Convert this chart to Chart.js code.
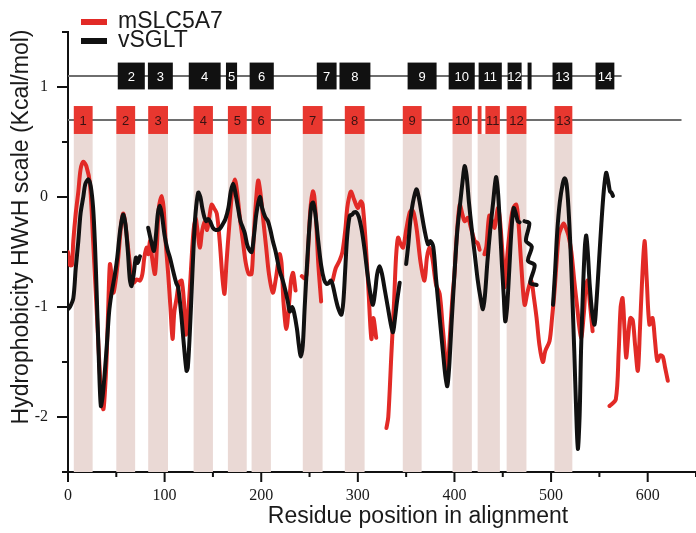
<!DOCTYPE html>
<html>
<head>
<meta charset="utf-8">
<script src="https://cdn.jsdelivr.net/npm/chart.js@4.4.1/dist/chart.umd.min.js"></script>
<style>
  html, body { margin: 0; padding: 0; background: #fff; }
  canvas { display: block; }
</style>
</head>
<body>
<canvas id="hydroChart" width="696" height="533"></canvas>
<script>
/* ================================
   DADOS
================================ */
const SERIES_NAMES = ['mSLC5A7', 'vSGLT'];
const X_TITLE = 'Residue position in alignment';
const Y_TITLE = 'Hydrophobicity HWvH scale (Kcal/mol)';

// mSLC5A7 (null = interrupção da linha)
const redX = [
  0, 2, 4, 5.5, 8, 10.7, 13, 15.8, 19, 22.7, 26, 31.3, 34, 36.5, 38, 40, 42, 43.4, 45, 47,
  49, 52, 55, 57, 59, 62, 65.8, 68, 71, 74.5, 77, 79, 81.4, 83, 85, 87, 90, 92, 94, 97,
  99, 101, 103.7, 106, 108.2, 110, 112.4, 115, 117.6, 120, 122, 124, 126, 128, 130, 132, 134, 136.5, 139, 141.7,
  144, 146, 148.6, 151, 154, 157, 160, 162, 164, 167, 170, 172.7, 175, 178, 181, 184, 187, 190, 192, 194.5,
  196.8, 199, 202, 205, 208, 212, 215, 219, 221, 223, 226, 229, 231, 233, 235.5, 239,
  242, 245, 247, 249, 251, 253.5, 255, 257, 259, 262, 268,
  274, 277, 281, 284, 287, 289, 291, 293, 296, 300, 303, 305, 308, 311, 314, 316, 319, 324,
  329.6, 331.5, 334.7, 337.5, 339.5, 341.6, 344, 346.8, 350, 353.7, 356, 358, 361, 365, 369, 371.5, 374, 377, 381, 384.7,
  388, 392.6, 395, 398, 400, 402, 405.4, 408, 410.5, 414, 417, 421, 424, 426, 428.5,
  431, 433, 436, 439, 441.5, 445, 447, 450, 452, 455, 458.8, 461, 464, 466, 469, 472.6, 476, 479.5, 482, 485,
  488, 491.5, 494, 498.4, 501, 503.6, 506, 508, 510.5, 513, 515.7, 518, 521, 524, 527, 531, 534, 536, 538, 540, 543, 552,
  560.5, 567, 570, 572, 574, 576, 577.7, 580, 582, 584.5, 587, 589.8, 592, 594, 596.7, 599, 601.8, 605, 607.5, 610, 613, 615.6, 618, 620.8
];
const redY = [
  -0.50, -0.62, -0.62, -0.40, -0.15, 0.05, 0.25, 0.32, 0.28, 0.12, -0.40, -1.31, -1.75, -1.93, -1.80, -1.46, -0.90, -0.61, -0.70, -0.87,
  -0.78, -0.55, -0.25, -0.15, -0.22, -0.45, -0.73, -0.78, -0.75, -0.76, -0.70, -0.55, -0.46, -0.52, -0.40, -0.55, -0.70, -0.45, -0.10, 0.01,
  -0.10, -0.40, -0.70, -1.00, -1.29, -1.05, -0.92, -0.78, -0.76, -0.95, -1.25, -1.10, -0.85, -0.55, -0.30, -0.19, -0.30, -0.46, -0.30, -0.22,
  -0.30, -0.20, -0.07, -0.10, -0.15, -0.40, -0.75, -0.88, -0.60, -0.25, 0.05, 0.16, 0.05, -0.20, -0.40, -0.60, -0.70, -0.70, -0.40, -0.05,
  0.15, 0.05, -0.20, -0.45, -0.70, -0.87, -0.75, -0.52, -0.60, -0.95, -1.20, -0.95, -0.75, -0.69, -0.85, null,
  -0.72, -0.74, -0.70, -0.40, -0.10, 0.05, 0.00, -0.25, -0.60, -0.95, null,
  -0.76, -0.65, -0.58, -0.50, -0.30, -0.10, 0.00, 0.05, -0.02, -0.10, -0.04, -0.07, -0.40, -0.85, -1.29, -1.10, -1.28, null,
  -2.10, -2.00, -1.43, -0.95, -0.55, -0.37, -0.42, -0.46, -0.30, -0.14, -0.12, -0.15, -0.30, -0.60, -0.76, -0.55, -0.46, -0.55, -0.80, -0.88,
  -1.20, -1.60, -1.30, -0.90, -0.70, -0.40, -0.07, -0.15, -0.22, -0.19, -0.28, -0.40, -0.42, -0.48, null,
  -0.52, -0.45, -0.17, -0.22, -0.28, -0.10, -0.20, -0.55, -0.82, -0.50, -0.19, -0.10, -0.07, -0.20, -0.60, -0.98, -0.85, -0.76, -0.90, -1.10,
  -1.35, -1.50, -1.40, -1.31, -1.10, -0.85, -0.55, -0.35, -0.28, -0.24, -0.29, -0.35, -0.50, -0.76, -1.00, -1.28, -1.05, -0.80, -0.76, -0.95, -1.22, null,
  -1.90, -1.84, -1.40, -1.00, -0.92, -1.20, -1.46, -1.25, -1.10, -1.12, -1.35, -1.58, -1.20, -0.80, -0.40, -0.75, -1.16, -1.10, -1.30, -1.49, -1.44, -1.45, -1.55, -1.67
];

// vSGLT
const blackX = [
  0, 2, 5.5, 8, 10.7, 13, 15.8, 18, 21, 23.5, 26, 28, 29.6, 32, 34, 36, 38, 40, 42.5, 45,
  48.6, 51, 54, 57, 59.5, 62, 64, 65.8, 68, 70.3, 72, 74.5, 79,
  83, 86, 89, 91, 93, 95, 97, 100, 103, 105.5, 109, 112, 114, 117, 120, 122.7, 124, 126, 128, 130,
  132, 134.8, 137, 139, 141, 143, 145, 147, 150, 153, 157, 160, 163, 166, 168.5, 171, 173, 176, 178.5, 181,
  183, 186, 190, 192.5, 195, 198.6, 201, 204, 207, 209.5, 212, 215, 219, 222, 225, 227.5, 229.6, 232, 234, 237,
  239, 241, 243, 245, 247.5, 250, 252, 253.7, 256, 259, 262, 265, 267.5, 270, 272, 274, 277, 280, 283, 285,
  287, 289, 291.6, 294, 296, 298.5, 301, 304, 307, 310, 313, 315.7, 318, 320, 322.6, 325, 328, 331, 334, 336.4,
  338.5, 340.5, 343.3, 347,
  350, 352, 354.5, 357, 360.6, 363, 366, 369, 372.6, 375, 378, 381, 384.7, 388, 390.5, 392.6, 394.5, 397, 400, 403,
  406, 408.5, 410.5, 412.5, 415, 418, 421, 424, 427, 429.5, 431.5, 434, 437, 440, 443, 445, 447, 449, 451, 452.6,
  454.5, 456.5, 459, 461.3, 463.5, 465.5, 467.4, 470,
  472.5, 477.5, 474, 480, 476, 483, 478.5, 485, 493,
  502, 504, 506.5, 509, 512, 514, 516, 518, 520, 522, 524, 526, 527.7, 529.5, 531, 533, 535, 536.4, 538, 540,
  542.5, 545, 547, 549.5, 552, 554.5, 557, 559, 561, 562.5, 564
];
const blackY = [
  -1.02, -1.00, -0.92, -0.65, -0.40, -0.15, 0.00, 0.12, 0.16, 0.10, -0.10, -0.45, -0.85, -1.50, -1.90, -1.80, -1.60, -1.37, -1.05, -0.88,
  -0.70, -0.55, -0.30, -0.16, -0.25, -0.50, -0.75, -0.81, -0.70, -0.55, -0.60, -0.54, null,
  -0.28, -0.40, -0.49, -0.35, -0.15, -0.08, -0.15, -0.35, -0.48, -0.55, -0.68, -0.78, -0.82, -1.05, -1.35, -1.58, -1.55, -1.25, -0.85, -0.45,
  -0.15, 0.04, 0.00, -0.10, -0.18, -0.22, -0.20, -0.22, -0.28, -0.30, -0.29, -0.25, -0.20, -0.10, 0.05, 0.12, 0.05, -0.10, -0.22, -0.28,
  -0.33, -0.45, -0.50, -0.35, -0.15, 0.00, -0.10, -0.18, -0.22, -0.30, -0.40, -0.50, -0.67, -0.75, -0.85, -0.95, -1.04, -1.00, -1.05, -1.20,
  -1.35, -1.45, -1.35, -1.00, -0.60, -0.25, -0.07, -0.05, -0.15, -0.40, -0.62, -0.75, -0.79, -0.78, -0.76, -0.80, -0.92, -1.02, -1.07, -0.95,
  -0.65, -0.35, -0.17, -0.16, -0.14, -0.14, -0.18, -0.30, -0.48, -0.70, -0.88, -0.98, -0.85, -0.70, -0.63, -0.70, -0.85, -1.00, -1.15, -1.23,
  -1.10, -0.95, -0.78, null,
  -0.61, -0.45, -0.20, -0.05, 0.07, 0.00, -0.15, -0.30, -0.43, -0.40, -0.45, -0.75, -1.10, -1.40, -1.62, -1.72, -1.55, -1.15, -0.70, -0.30,
  -0.05, 0.15, 0.28, 0.20, -0.05, -0.30, -0.52, -0.75, -0.92, -1.02, -0.90, -0.60, -0.30, -0.05, 0.18, 0.05, -0.25, -0.60, -0.90, -1.13,
  -1.00, -0.70, -0.30, -0.10, -0.15, -0.22, -0.23, null,
  -0.22, -0.24, -0.40, -0.45, -0.58, -0.62, -0.78, -0.80, null,
  -0.98, -0.70, -0.30, -0.05, 0.12, 0.17, 0.12, -0.10, -0.45, -0.90, -1.40, -1.95, -2.29, -2.00, -1.40, -0.85, -0.45, -0.35, -0.50, -0.80,
  -1.05, -1.16, -0.95, -0.60, -0.25, 0.05, 0.22, 0.15, 0.05, 0.04, 0.01
];

// Segmentos transmembrana (resíduos)
const redTmStart  = [6, 50, 83, 130, 165.5, 190, 243, 286.5, 346.5, 398, 424, 432, 454, 503.5];
const redTmEnd    = [25.5, 69.5, 103.5, 150, 185, 210, 263.5, 307, 366, 418, 428, 447, 474.5, 522];
const redTmLabels = ['1', '2', '3', '4', '5', '6', '7', '8', '9', '10', '', '11', '12', '13'];

const blackTmStart  = [51.5, 82.7, 125, 163.5, 188, 257.5, 281, 351.5, 394, 425, 455, 475.7, 501.5, 546];
const blackTmEnd    = [79.5, 108.5, 158, 175, 213, 278, 313, 381.5, 421, 449, 469.5, 479.8, 522, 565.5];
const blackTmLabels = ['2', '3', '4', '5', '6', '7', '8', '9', '10', '11', '12', '', '13', '14'];

const bandStart = [6, 50, 83, 130, 165.5, 190, 243, 286.5, 346.5, 398, 424, 454, 503.5];
const bandEnd   = [25.5, 69.5, 103.5, 150, 185, 210, 263.5, 307, 366, 418, 447, 474.5, 522];

// Linhas das topologias: nível (y) e fim (resíduo)
const redRowLevel = 0.7, redRowEnd = 635;
const blackRowLevel = 1.1, blackRowEnd = 573;

/* ================================
   ESTILO
================================ */
const RED = '#e22a26';
const RED_BOX = '#e8372f';
const BLACK = '#111111';
const BAND = '#ead9d5';
const ROW_GRAY = '#6e6e6e';
const TEXT = '#1a1a1a';
const SANS = '"Liberation Sans", Arial, sans-serif';
const SERIF = '"Liberation Serif", "Times New Roman", serif';
const RED_HALF = 0.127, BLACK_HALF = 0.122;

const toPoints = (xs, ys) => xs.map((x, i) => ({ x: x, y: ys[i] }));

function drawRow(ctx, sx, sy, level, half, rowEnd, starts, ends, labels, fill, textColor) {
    const py = sy.getPixelForValue(level);
    ctx.strokeStyle = ROW_GRAY;
    ctx.lineWidth = 2;
    ctx.beginPath();
    ctx.moveTo(sx.getPixelForValue(0), py);
    ctx.lineTo(sx.getPixelForValue(rowEnd), py);
    ctx.stroke();

    const top = sy.getPixelForValue(level + half);
    const bot = sy.getPixelForValue(level - half);
    ctx.font = '13px ' + SANS;
    ctx.textAlign = 'center';
    ctx.textBaseline = 'middle';
    starts.forEach((s, i) => {
        const x0 = sx.getPixelForValue(s);
        const x1 = sx.getPixelForValue(ends[i]);
        ctx.fillStyle = fill;
        ctx.fillRect(x0, top, x1 - x0, bot - top);
        if (labels[i]) {
            ctx.fillStyle = textColor;
            ctx.fillText(labels[i], (x0 + x1) / 2, (top + bot) / 2 + 1);
        }
    });
}

const topologyPlugin = {
    id: 'topology',
    beforeDatasetsDraw(chart) {
        const { ctx, chartArea, scales: { x, y } } = chart;
        ctx.save();
        // faixas rosadas dos TMs
        const bandTop = y.getPixelForValue(redRowLevel - RED_HALF);
        ctx.fillStyle = BAND;
        bandStart.forEach((s, i) => {
            const x0 = x.getPixelForValue(s);
            const x1 = x.getPixelForValue(bandEnd[i]);
            ctx.fillRect(x0, bandTop, x1 - x0, chartArea.bottom - bandTop);
        });
        drawRow(ctx, x, y, blackRowLevel, BLACK_HALF, blackRowEnd, blackTmStart, blackTmEnd, blackTmLabels, BLACK, '#ffffff');
        drawRow(ctx, x, y, redRowLevel, RED_HALF, redRowEnd, redTmStart, redTmEnd, redTmLabels, RED_BOX, '#3a1212');
        ctx.restore();
    },
    afterDraw(chart) {
        const { ctx, chartArea, scales: { x, y } } = chart;
        ctx.save();
        // marcas dos eixos (maiores nos valores rotulados)
        ctx.strokeStyle = BLACK;
        ctx.lineWidth = 2;
        ctx.beginPath();
        x.ticks.forEach(t => {
            const px = x.getPixelForValue(t.value);
            const len = t.value % 100 === 0 ? 10 : 5;
            ctx.moveTo(px, chartArea.bottom);
            ctx.lineTo(px, chartArea.bottom + len);
        });
        y.ticks.forEach(t => {
            const py = y.getPixelForValue(t.value);
            const len = Number.isInteger(t.value) ? 11 : 6;
            ctx.moveTo(chartArea.left, py);
            ctx.lineTo(chartArea.left - len, py);
        });
        ctx.stroke();

        // legenda
        ctx.font = '23px ' + SANS;
        ctx.textAlign = 'left';
        ctx.textBaseline = 'middle';
        chart.data.datasets.forEach((ds, i) => {
            ctx.fillStyle = ds.borderColor;
            ctx.fillRect(81, 19 + i * 19, 26, 6);
            ctx.fillStyle = TEXT;
            ctx.fillText(ds.label, 118, 22 + i * 19);
        });

        // títulos dos eixos
        ctx.textAlign = 'center';
        ctx.fillText(X_TITLE, 418, 517);
        ctx.translate(22, 227);
        ctx.rotate(-Math.PI / 2);
        ctx.fillText(Y_TITLE, 0, 0);
        ctx.restore();
    }
};

/* ================================
   GRÁFICO (Chart.js)
================================ */
const lineStyle = { pointRadius: 0, borderWidth: 4, tension: 0.3, borderJoinStyle: 'round', borderCapStyle: 'round', spanGaps: false, fill: false };

new Chart(document.getElementById('hydroChart'), {
    type: 'line',
    data: {
        datasets: [
            { label: SERIES_NAMES[0], data: toPoints(redX, redY), borderColor: RED, order: 1, ...lineStyle },
            { label: SERIES_NAMES[1], data: toPoints(blackX, blackY), borderColor: BLACK, order: 0, ...lineStyle }
        ]
    },
    options: {
        responsive: false,
        animation: false,
        layout: { padding: { top: 32, right: 0, left: 0, bottom: 0 } },
        plugins: { legend: { display: false }, tooltip: { enabled: false } },
        scales: {
            x: {
                type: 'linear',
                min: 0, max: 650,
                afterFit: s => { s.height = 61; s.paddingRight = 0; s.paddingLeft = 0; },
                grid: { display: false, drawTicks: false },
                border: { display: true, color: BLACK, width: 2 },
                ticks: {
                    stepSize: 50, padding: 14, color: TEXT, maxRotation: 0, autoSkip: false,
                    font: { family: SERIF, size: 16 },
                    callback: v => (v % 100 === 0 && v <= 600) ? String(v) : ''
                }
            },
            y: {
                min: -2.5, max: 1.5,
                afterFit: s => { s.width = 68; },
                grid: { display: false, drawTicks: false },
                border: { display: true, color: BLACK, width: 2 },
                ticks: {
                    stepSize: 0.5, padding: 20, color: TEXT,
                    font: { family: SERIF, size: 16 },
                    callback: v => Number.isInteger(v) ? String(v) : ''
                }
            }
        }
    },
    plugins: [topologyPlugin]
});
</script>
</body>
</html>
